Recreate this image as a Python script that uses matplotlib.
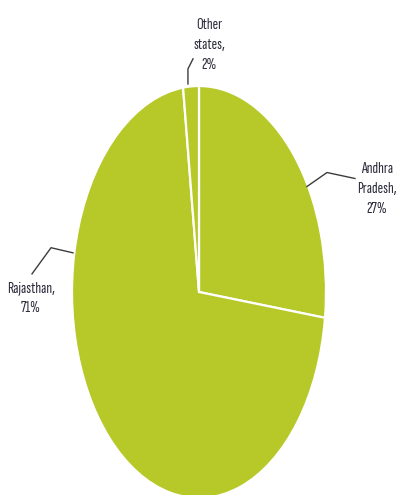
import matplotlib
matplotlib.use("Agg")
import matplotlib.pyplot as plt

labels = ["Andhra\nPradesh,\n27%", "Rajasthan,\n71%", "Other\nstates,\n2%"]
shares = [27, 71, 2]

# leader line points (axes data units, pie radius = 1) and label centres
leaders = [
    [(0.85, 0.512), (1.008, 0.580), (1.228, 0.551)],
    [(-0.992, 0.19), (-1.165, 0.215), (-1.315, 0.088)],
    [(-0.087, 1.01), (-0.087, 1.083), (-0.047, 1.132)],
]
label_pos = [(1.40, 0.50), (-1.325, -0.03), (0.08, 1.20)]

plt.rcParams['font.family'] = ['Sofia Sans Extra Condensed', 'DejaVu Sans']

fig = plt.figure(figsize=(4, 4.95), dpi=100)
ax = fig.add_axes([72 / 400, -3 / 495, 254 / 400, 412 / 495])

ax.pie(shares, startangle=90, counterclock=False, colors=['#b7c928'] * 3,
       wedgeprops=dict(edgecolor='white', linewidth=1.6))
ax.set_aspect('auto')
ax.set_xlim(-1, 1)
ax.set_ylim(-1, 1)
ax.axis('off')

for pts, txt, (tx, ty) in zip(leaders, labels, label_pos):
    xs = [p[0] for p in pts]
    ys = [p[1] for p in pts]
    ax.plot(xs, ys, color='#3c3c3c', lw=1.0, clip_on=False)
    ax.text(tx, ty, txt, ha='center', va='center', fontsize=12,
            color='#2c2c3c', linespacing=1.55, clip_on=False)

fig.savefig("out.png", dpi=100)
